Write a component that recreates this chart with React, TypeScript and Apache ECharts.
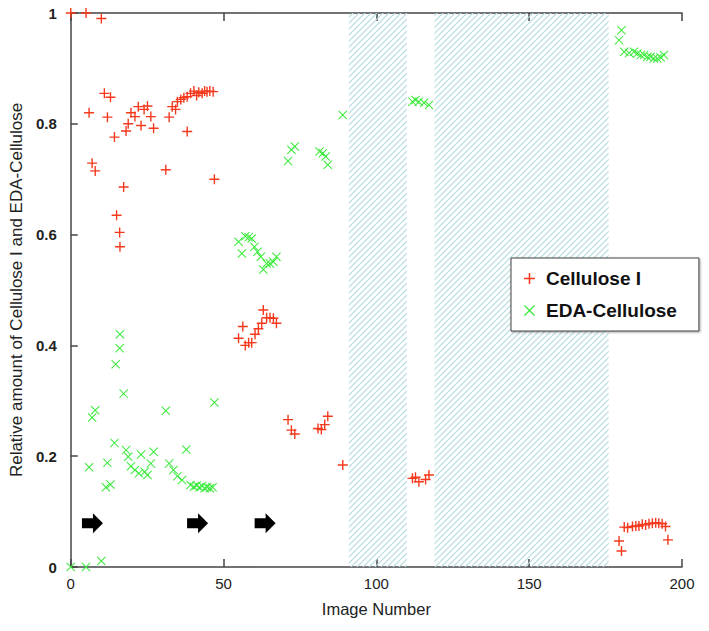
import React, { useEffect, useRef } from "react";
import * as echarts from "echarts";

// Image number / relative amount pairs
const celluloseI: [number, number][] = [
  [0, 1.0], [5, 1.0], [10, 0.99], [6, 0.82], [7, 0.729], [8, 0.715], [11, 0.855], [12, 0.812],
  [13, 0.848], [14.3, 0.776], [15, 0.635], [16, 0.604], [16.1, 0.578], [17.3, 0.686], [18.1, 0.787],
  [18.8, 0.8], [19.7, 0.82], [21, 0.813], [22.1, 0.831], [23, 0.797], [24, 0.826], [25.1, 0.832],
  [26.2, 0.813], [27.1, 0.792], [31.1, 0.717], [32.2, 0.812], [33.2, 0.831], [34.3, 0.826],
  [34.9, 0.84], [36, 0.844], [37, 0.847], [38.1, 0.849], [38.1, 0.786], [39.2, 0.855], [40.3, 0.859],
  [41.2, 0.851], [41.9, 0.857], [43, 0.855], [43.8, 0.859], [44.6, 0.858], [45.5, 0.859],
  [46.6, 0.858], [47, 0.7],
  [54.9, 0.413], [56.3, 0.434], [57.1, 0.4], [58.2, 0.405], [59.2, 0.405], [60.3, 0.42], [61.4, 0.43],
  [62.5, 0.44], [63, 0.464], [64.1, 0.45], [65.2, 0.45], [66.3, 0.449], [67.3, 0.44],
  [71.1, 0.266], [72.2, 0.247], [73.3, 0.24], [80.9, 0.25], [82, 0.248], [83.1, 0.257], [84.1, 0.272],
  [89, 0.184],
  [111.8, 0.16], [112.8, 0.162], [113.9, 0.154], [116.1, 0.158], [117.2, 0.166],
  [179.4, 0.047], [180.2, 0.029], [181.1, 0.072], [182.2, 0.071], [183.8, 0.073], [184.9, 0.074],
  [185.9, 0.074], [187, 0.077], [188.1, 0.076], [189.2, 0.078], [190.3, 0.079], [191.4, 0.08],
  [192.4, 0.079], [193.5, 0.078], [194.6, 0.073], [195.4, 0.049],
];

const edaCellulose: [number, number][] = [
  [0, 0], [5, 0], [10, 0.011], [6, 0.18], [7, 0.27], [8, 0.283], [11.5, 0.144], [13, 0.149],
  [12, 0.188], [14.3, 0.224], [14.7, 0.366], [16, 0.395], [16.1, 0.42], [17.3, 0.313], [18.1, 0.211],
  [18.8, 0.199], [19.7, 0.182], [21, 0.175], [22.3, 0.169], [23, 0.203], [24.2, 0.172], [25.1, 0.166],
  [26.2, 0.187], [27.1, 0.208], [31.1, 0.282], [32.2, 0.187], [33.6, 0.175], [34.9, 0.164],
  [36.4, 0.157], [37.8, 0.212], [39.2, 0.148], [40.3, 0.145], [41.2, 0.147], [42.1, 0.144],
  [43, 0.146], [43.8, 0.142], [44.6, 0.144], [45.5, 0.142], [46.4, 0.144], [47, 0.297],
  [54.9, 0.587], [56, 0.566], [57.1, 0.597], [58.2, 0.595], [59.2, 0.593], [60.1, 0.578], [61.1, 0.569],
  [62.2, 0.56], [63, 0.537], [64.1, 0.548], [65.2, 0.548], [66.3, 0.551], [67.3, 0.56],
  [71.1, 0.733], [72.2, 0.753], [73.3, 0.759], [81.4, 0.75], [82.5, 0.747], [83.4, 0.741], [84.1, 0.726],
  [89, 0.816],
  [111.8, 0.84], [112.8, 0.843], [113.9, 0.84], [115.6, 0.838], [117.2, 0.834],
  [179.4, 0.951], [180.2, 0.969], [181.1, 0.93], [182.7, 0.928], [184.3, 0.93], [185.4, 0.927],
  [186.5, 0.924], [187.6, 0.924], [188.7, 0.921], [189.7, 0.921], [190.8, 0.918], [191.9, 0.918],
  [193, 0.92], [194.1, 0.924],
];

const arrowPositions: [number, number][] = [[7.1, 0.079], [41.5, 0.079], [63.6, 0.079]];
const shadedRanges: [number, number][] = [[91, 110], [119, 176]];

const PLUS = "path://M4.3,0H5.7V4.3H10V5.7H5.7V10H4.3V5.7H0V4.3H4.3Z";
const CROSS =
  "path://M0,0.8L0.8,0L5,4.2L9.2,0L10,0.8L5.8,5L10,9.2L9.2,10L5,5.8L0.8,10L0,9.2L4.2,5Z";
const ARROW = "path://M0,5H11V0L21,10L11,20V15H0Z";

function hatchTile(): string {
  const s = 6;
  const c = document.createElement("canvas");
  c.width = s;
  c.height = s;
  const g = c.getContext("2d")!;
  g.strokeStyle = "#b3dce1";
  g.lineWidth = 1.2;
  g.beginPath();
  g.moveTo(-1, s + 1);
  g.lineTo(s + 1, -1);
  g.moveTo(-1, 1);
  g.lineTo(1, -1);
  g.moveTo(s - 1, s + 1);
  g.lineTo(s + 1, s - 1);
  g.stroke();
  return c.toDataURL();
}

export default function App() {
  const ref = useRef<HTMLDivElement>(null);
  useEffect(() => {
    if (!ref.current) return;
    const chart = echarts.init(ref.current, null, { renderer: "svg" });
    const font = "'Liberation Sans', Arial, Helvetica, sans-serif";
    const axisLine = { show: true, lineStyle: { color: "#444", width: 1.5 } };
    chart.setOption({
      animation: false,
      backgroundColor: "#fff",
      textStyle: { fontFamily: font },
      grid: { left: 66, right: 27, top: 13, bottom: 64, containLabel: false },
      legend: {
        orient: "vertical",
        left: 511,
        top: 258,
        padding: [11, 22, 11, 13],
        itemWidth: 11,
        itemHeight: 13,
        itemGap: 13,
        backgroundColor: "#fff",
        borderColor: "#444",
        borderWidth: 1,
        shadowColor: "rgba(0,0,0,0.35)",
        shadowBlur: 2,
        shadowOffsetX: 1,
        shadowOffsetY: 1,
        textStyle: {
          fontFamily: font,
          fontSize: 19,
          fontWeight: "bold",
          color: "#111",
          padding: [0, 0, 0, 6],
        },
        data: [
          { name: "Cellulose I", icon: PLUS },
          { name: "EDA-Cellulose", icon: CROSS },
        ],
      },
      xAxis: [
        {
          type: "value",
          min: 0,
          max: 200,
          interval: 50,
          position: "bottom",
          axisLine,
          axisTick: { inside: true, length: 8, lineStyle: { color: "#444", width: 1.5 } },
          axisLabel: { fontFamily: font, fontSize: 15, color: "#222", margin: 9 },
          splitLine: { show: false },
          name: "Image Number",
          nameLocation: "middle",
          nameGap: 33,
          nameTextStyle: { fontFamily: font, fontSize: 16.5, color: "#222" },
        },
        {
          type: "value",
          min: 0,
          max: 200,
          interval: 50,
          position: "top",
          axisLine,
          axisTick: { inside: true, length: 8, lineStyle: { color: "#444", width: 1.5 } },
          axisLabel: { show: false },
          splitLine: { show: false },
        },
      ],
      yAxis: {
        type: "value",
        min: 0,
        max: 1,
        interval: 0.2,
        axisLine,
        axisTick: { inside: true, length: 7, lineStyle: { color: "#444", width: 1.5 } },
        axisLabel: { fontFamily: font, fontSize: 15, fontWeight: "bold", color: "#222", margin: 14 },
        splitLine: { show: false },
        name: "Relative amount of Cellulose I and EDA-Cellulose",
        nameLocation: "middle",
        nameGap: 42,
        nameTextStyle: { fontFamily: font, fontSize: 17, color: "#222" },
      },
      series: [
        {
          name: "shade",
          type: "scatter",
          data: [],
          silent: true,
          markArea: {
            silent: true,
            itemStyle: {
              color: { image: hatchTile(), repeat: "repeat", imageWidth: 6, imageHeight: 6 },
            },
            data: shadedRanges.map(([a, b]) => [{ xAxis: a }, { xAxis: b }]),
          },
        },
        {
          name: "arrows",
          type: "scatter",
          symbol: ARROW,
          symbolSize: [21, 20],
          itemStyle: { color: "#000", opacity: 1 },
          silent: true,
          data: arrowPositions,
        },
        {
          name: "Cellulose I",
          type: "scatter",
          symbol: PLUS,
          symbolSize: 10,
          itemStyle: { color: "#f4391d", opacity: 1 },
          data: celluloseI,
          z: 4,
        },
        {
          name: "EDA-Cellulose",
          type: "scatter",
          symbol: CROSS,
          symbolSize: 9,
          itemStyle: { color: "#3bea3b", opacity: 1 },
          data: edaCellulose,
          z: 3,
        },
      ],
    });
    return () => chart.dispose();
  }, []);
  return (
    <div
      ref={ref}
      style={{ position: "absolute", left: 0, top: 0, width: 709, height: 631 }}
    />
  );
}
